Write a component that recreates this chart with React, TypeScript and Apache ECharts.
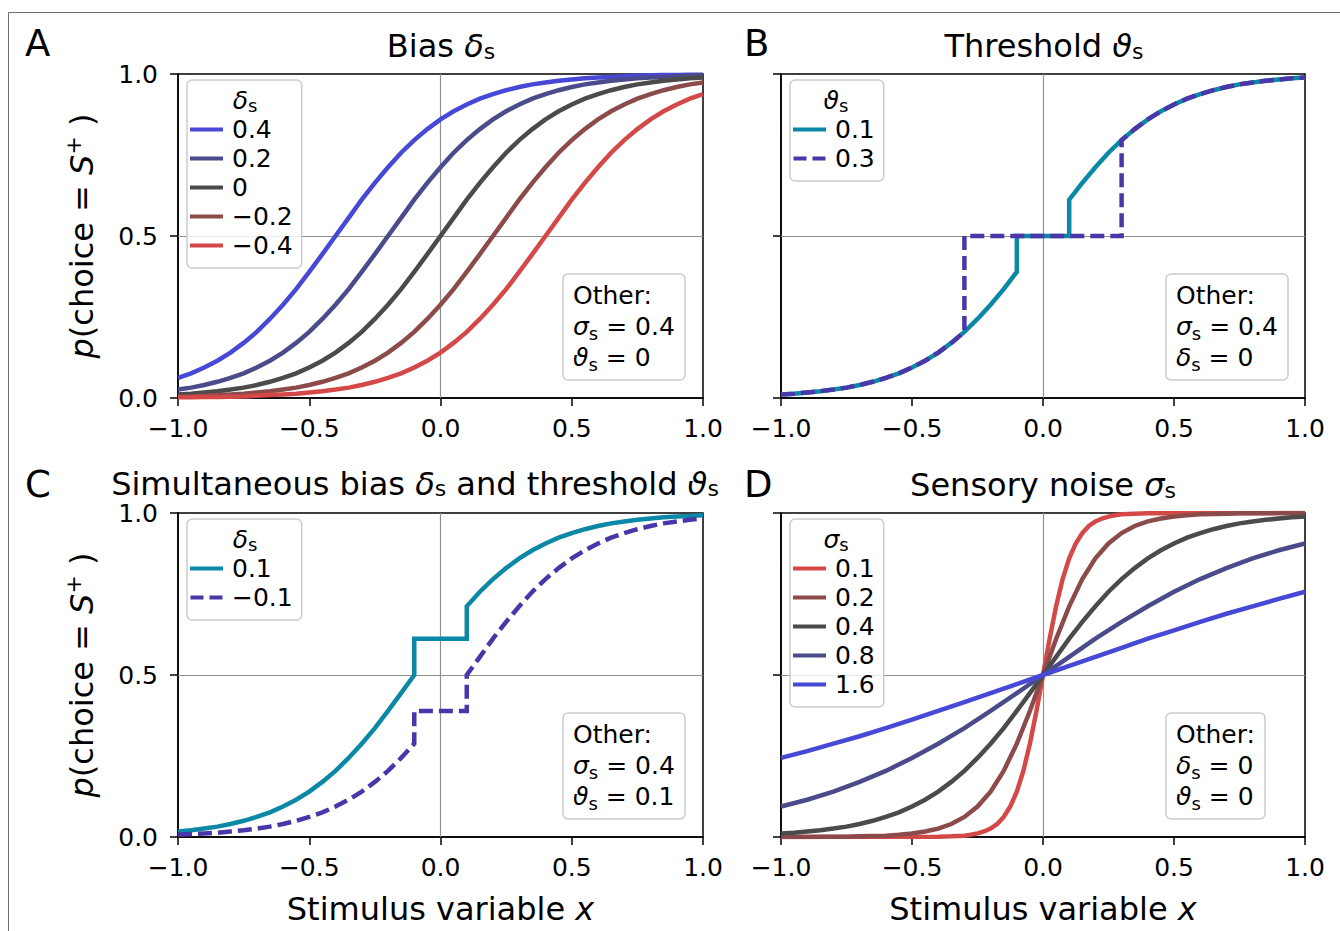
import React, { useEffect, useRef } from 'react';
import * as echarts from 'echarts';

const FF = 'DejaVu Sans';

// ---------- shared x grids ----------
const xGrid = [-1, -0.95, -0.9, -0.85, -0.8, -0.75, -0.7, -0.65, -0.6, -0.55, -0.5, -0.45, -0.4, -0.35, -0.3, -0.25, -0.2, -0.15, -0.1, -0.05, 0, 0.05, 0.1, 0.15, 0.2, 0.25, 0.3, 0.35, 0.4, 0.45, 0.5, 0.55, 0.6, 0.65, 0.7, 0.75, 0.8, 0.85, 0.9, 0.95, 1];
const xCoarse = [-1, -0.9, -0.8, -0.7, -0.6, -0.5, -0.4, -0.3, -0.2, -0.1, 0, 0.1, 0.2, 0.3, 0.4, 0.5, 0.6, 0.7, 0.8, 0.9, 1];

// ---------- Panel A: bias ----------
const biasLabels = ['0.4', '0.2', '0', '−0.2', '−0.4'];
const biasP04 = [0.062, 0.076, 0.094, 0.115, 0.140, 0.170, 0.204, 0.244, 0.288, 0.336, 0.389, 0.444, 0.500, 0.556, 0.612, 0.664, 0.712, 0.757, 0.796, 0.830, 0.860, 0.885, 0.906, 0.924, 0.938, 0.950, 0.960, 0.968, 0.974, 0.979, 0.983, 0.987, 0.989, 0.991, 0.993, 0.995, 0.996, 0.997, 0.997, 0.998, 0.998];
const biasP02 = [0.026, 0.032, 0.040, 0.050, 0.062, 0.076, 0.094, 0.115, 0.140, 0.170, 0.204, 0.244, 0.288, 0.336, 0.389, 0.444, 0.500, 0.556, 0.612, 0.664, 0.712, 0.757, 0.796, 0.830, 0.860, 0.885, 0.906, 0.924, 0.938, 0.950, 0.960, 0.968, 0.974, 0.979, 0.983, 0.987, 0.989, 0.991, 0.993, 0.995, 0.996];
const biasZero = [0.011, 0.013, 0.017, 0.021, 0.026, 0.032, 0.040, 0.050, 0.062, 0.076, 0.094, 0.115, 0.140, 0.170, 0.204, 0.244, 0.288, 0.336, 0.389, 0.444, 0.500, 0.556, 0.612, 0.664, 0.712, 0.757, 0.796, 0.830, 0.860, 0.885, 0.906, 0.924, 0.938, 0.950, 0.960, 0.968, 0.974, 0.979, 0.983, 0.987, 0.989];
const biasM02 = [0.004, 0.005, 0.007, 0.009, 0.011, 0.013, 0.017, 0.021, 0.026, 0.032, 0.040, 0.050, 0.062, 0.076, 0.094, 0.115, 0.140, 0.170, 0.204, 0.244, 0.288, 0.336, 0.389, 0.444, 0.500, 0.556, 0.612, 0.664, 0.712, 0.757, 0.796, 0.830, 0.860, 0.885, 0.906, 0.924, 0.938, 0.950, 0.960, 0.968, 0.974];
const biasM04 = [0.002, 0.002, 0.003, 0.003, 0.004, 0.005, 0.007, 0.009, 0.011, 0.013, 0.017, 0.021, 0.026, 0.032, 0.040, 0.050, 0.062, 0.076, 0.094, 0.115, 0.140, 0.170, 0.204, 0.244, 0.288, 0.336, 0.389, 0.444, 0.500, 0.556, 0.612, 0.664, 0.712, 0.757, 0.796, 0.830, 0.860, 0.885, 0.906, 0.924, 0.938];

// ---------- Panel B: threshold ----------
const thrLabels = ['0.1', '0.3'];
const thrX01 = [-1, -0.95, -0.9, -0.85, -0.8, -0.75, -0.7, -0.65, -0.6, -0.55, -0.5, -0.45, -0.4, -0.35, -0.3, -0.25, -0.2, -0.15, -0.1, -0.1, 0.1, 0.1, 0.15, 0.2, 0.25, 0.3, 0.35, 0.4, 0.45, 0.5, 0.55, 0.6, 0.65, 0.7, 0.75, 0.8, 0.85, 0.9, 0.95, 1];
const thrY01 = [0.011, 0.013, 0.017, 0.021, 0.026, 0.032, 0.040, 0.050, 0.062, 0.076, 0.094, 0.115, 0.140, 0.170, 0.204, 0.244, 0.288, 0.336, 0.389, 0.5, 0.5, 0.612, 0.664, 0.712, 0.757, 0.796, 0.830, 0.860, 0.885, 0.906, 0.924, 0.938, 0.950, 0.960, 0.968, 0.974, 0.979, 0.983, 0.987, 0.989];
const thrX03 = [-1, -0.95, -0.9, -0.85, -0.8, -0.75, -0.7, -0.65, -0.6, -0.55, -0.5, -0.45, -0.4, -0.35, -0.3, -0.3, 0.3, 0.3, 0.35, 0.4, 0.45, 0.5, 0.55, 0.6, 0.65, 0.7, 0.75, 0.8, 0.85, 0.9, 0.95, 1];
const thrY03 = [0.011, 0.013, 0.017, 0.021, 0.026, 0.032, 0.040, 0.050, 0.062, 0.076, 0.094, 0.115, 0.140, 0.170, 0.204, 0.5, 0.5, 0.796, 0.830, 0.860, 0.885, 0.906, 0.924, 0.938, 0.950, 0.960, 0.968, 0.974, 0.979, 0.983, 0.987, 0.989];

// ---------- Panel C: bias and threshold ----------
const bothLabels = ['0.1', '−0.1'];
const bothX = thrX01;
const bothYPos = [0.017, 0.021, 0.026, 0.032, 0.040, 0.050, 0.062, 0.076, 0.094, 0.115, 0.140, 0.170, 0.204, 0.244, 0.288, 0.336, 0.389, 0.444, 0.500, 0.612, 0.612, 0.712, 0.757, 0.796, 0.830, 0.860, 0.885, 0.906, 0.924, 0.938, 0.950, 0.960, 0.968, 0.974, 0.979, 0.983, 0.987, 0.989, 0.991, 0.993];
const bothYNeg = [0.007, 0.009, 0.011, 0.013, 0.017, 0.021, 0.026, 0.032, 0.040, 0.050, 0.062, 0.076, 0.094, 0.115, 0.140, 0.170, 0.204, 0.244, 0.288, 0.389, 0.389, 0.500, 0.556, 0.612, 0.664, 0.712, 0.757, 0.796, 0.830, 0.860, 0.885, 0.906, 0.924, 0.938, 0.950, 0.960, 0.968, 0.974, 0.979, 0.983];

// ---------- Panel D: sensory noise ----------
const noiseLabels = ['0.1', '0.2', '0.4', '0.8', '1.6'];
const noiseX01 = [-1, -0.4, -0.35, -0.3, -0.275, -0.25, -0.225, -0.2, -0.175, -0.15, -0.125, -0.1, -0.075, -0.05, -0.025, 0, 0.025, 0.05, 0.075, 0.1, 0.125, 0.15, 0.175, 0.2, 0.225, 0.25, 0.275, 0.3, 0.35, 0.4, 1];
const noiseY01 = [0.000, 0.001, 0.002, 0.004, 0.007, 0.011, 0.017, 0.026, 0.040, 0.062, 0.094, 0.140, 0.204, 0.288, 0.389, 0.500, 0.611, 0.712, 0.796, 0.860, 0.906, 0.938, 0.960, 0.974, 0.983, 0.989, 0.993, 0.996, 0.998, 0.999, 1.000];
const noiseY02 = [0.000, 0.000, 0.000, 0.001, 0.001, 0.001, 0.002, 0.003, 0.004, 0.007, 0.011, 0.017, 0.026, 0.040, 0.062, 0.094, 0.140, 0.204, 0.288, 0.389, 0.500, 0.611, 0.712, 0.796, 0.860, 0.906, 0.938, 0.960, 0.974, 0.983, 0.989, 0.993, 0.996, 0.997, 0.998, 0.999, 0.999, 0.999, 1.000, 1.000, 1.000];
const noiseY04 = biasZero;
const noiseY08 = [0.094, 0.115, 0.140, 0.170, 0.204, 0.244, 0.288, 0.336, 0.389, 0.444, 0.500, 0.556, 0.612, 0.664, 0.712, 0.757, 0.796, 0.830, 0.860, 0.885, 0.906];
const noiseY16 = [0.244, 0.265, 0.288, 0.311, 0.336, 0.362, 0.389, 0.416, 0.444, 0.472, 0.500, 0.528, 0.556, 0.584, 0.612, 0.638, 0.664, 0.689, 0.712, 0.735, 0.757];

// ---------- styling ----------
const C_BLUE = '#4848d6';
const C_SLATE = '#4b4b8c';
const C_GRAY = '#4b4b4b';
const C_BROWN = '#8c4b4b';
const C_RED = '#d44848';
const C_TEAL = '#0b88a6';
const C_PURPLE = '#4a36a8';
const LW = 4.5;

const ICON_SOLID = 'path://M0,0H33V4H0Z';
const ICON_DASH = 'path://M0,0H13V4H0ZM19,0H32V4H19Z';

const grids = [
  { left: 178, top: 74, width: 525, height: 324 },
  { left: 781, top: 74, width: 524, height: 324 },
  { left: 178, top: 513, width: 525, height: 324 },
  { left: 781, top: 513, width: 524, height: 324 },
];

function rich(size: number, lh = 1.22) {
  const sub = Math.round(size * 0.7);
  const base = { fontFamily: FF, color: '#000', fontWeight: 'normal' };
  return {
    n: { ...base, fontSize: size, lineHeight: Math.round(size * lh) },
    i: { ...base, fontSize: size, fontStyle: 'italic', lineHeight: Math.round(size * lh) },
    s: { ...base, fontSize: sub, verticalAlign: 'bottom', lineHeight: Math.round(size * (lh - 0.5)) },
    sup: { ...base, fontSize: sub, verticalAlign: 'top', lineHeight: sub },
  };
}

function line(name: string, xs: number[], ys: number[], g: number, color: string, dashed = false) {
  return {
    type: 'line',
    name,
    xAxisIndex: g,
    yAxisIndex: g,
    data: xs.map((x, i) => [x, ys[i]]),
    showSymbol: false,
    symbol: 'none',
    smooth: false,
    silent: true,
    z: 3,
    itemStyle: { color },
    lineStyle: { color, width: LW, type: dashed ? [14, 6] : 'solid', cap: 'butt', join: 'miter' },
    emphasis: { disabled: true },
  };
}

function guide(g: number) {
  return {
    type: 'line',
    name: 'guide' + g,
    xAxisIndex: g,
    yAxisIndex: g,
    data: [],
    silent: true,
    z: 1,
    markLine: {
      silent: true,
      z: 1,
      symbol: ['none', 'none'],
      label: { show: false },
      emphasis: { disabled: true },
      lineStyle: { color: '#909090', width: 1.2, type: 'solid' },
      data: [{ xAxis: 0 }, { yAxis: 0.5 }],
    },
  };
}

const fmtTick = (v: number) => (v < 0 ? '−' : '') + Math.abs(v).toFixed(1);

function legend(names: string[], dashedNames: string[], left: number, top: number) {
  return {
    data: names.map((n) => ({ name: n, icon: dashedNames.includes(n) ? ICON_DASH : ICON_SOLID })),
    formatter: (n: string) => n.split('|')[1],
    orient: 'vertical',
    left,
    top,
    padding: [35, 9, 8, 3],
    itemWidth: 33,
    itemHeight: 4,
    itemGap: 0,
    selectedMode: false,
    backgroundColor: 'rgba(255,255,255,0.8)',
    borderColor: '#cccccc',
    borderWidth: 1.5,
    borderRadius: 5,
    textStyle: { fontSize: 25, fontFamily: FF, color: '#000', lineHeight: 29, padding: [0, 0, 0, 4] },
    z: 5,
  };
}

function otherBox(text: string, left: number, top: number) {
  return {
    text,
    left,
    top,
    padding: [6, 10, 7, 10],
    borderColor: '#cccccc',
    borderWidth: 1.5,
    borderRadius: 5,
    backgroundColor: 'rgba(255,255,255,0.8)',
    textStyle: { fontSize: 25, fontFamily: FF, color: '#000', fontWeight: 'normal', lineHeight: 31, rich: rich(25, 1.24) },
  };
}

function gtext(text: string, x: number, y: number, size: number, align = 'center', lh = 1.1) {
  return {
    type: 'text',
    x,
    y,
    z: 20,
    silent: true,
    style: { text, fontSize: size, fontFamily: FF, fill: '#000', align, verticalAlign: 'middle', rich: rich(size, lh) },
  };
}

const yName = '{i|p}{n|(choice = }{i|S}{sup|+}{n| )}';
const xName = '{n|Stimulus variable }{i|x}';

const option: any = {
  animation: false,
  backgroundColor: '#fff',
  textStyle: { fontFamily: FF },
  grid: grids.map((g) => ({ ...g, show: true, borderColor: '#000', borderWidth: 1.5, backgroundColor: 'transparent', containLabel: false, outerBoundsMode: 'none' })),
  xAxis: grids.map((_, i) => ({
    type: 'value',
    gridIndex: i,
    min: -1,
    max: 1,
    interval: 0.5,
    axisLine: { show: true, onZero: false, lineStyle: { color: '#000', width: 1.5 } },
    axisTick: { show: true, length: 8, lineStyle: { color: '#000', width: 1.5 } },
    axisLabel: { show: true, margin: 18, fontSize: 25, fontFamily: FF, color: '#000', formatter: fmtTick, showMinLabel: true, showMaxLabel: true, hideOverlap: false },
    splitLine: { show: false },
    name: i >= 2 ? xName : '',
    nameLocation: 'middle',
    nameGap: 52,
    nameTextStyle: { fontSize: 32, fontFamily: FF, color: '#000', rich: rich(32) },
  })),
  yAxis: grids.map((_, i) => ({
    type: 'value',
    gridIndex: i,
    min: 0,
    max: 1,
    interval: 0.5,
    axisLine: { show: true, onZero: false, lineStyle: { color: '#000', width: 1.5 } },
    axisTick: { show: true, length: 8, lineStyle: { color: '#000', width: 1.5 } },
    axisLabel: { show: i % 2 === 0, margin: 20, fontSize: 25, fontFamily: FF, color: '#000', formatter: (v: number) => v.toFixed(1), showMinLabel: true, showMaxLabel: true, hideOverlap: false },
    splitLine: { show: false },
    name: i % 2 === 0 ? yName : '',
    nameLocation: 'middle',
    nameRotate: 90,
    nameGap: 77,
    nameTextStyle: { fontSize: 32, fontFamily: FF, color: '#000', rich: rich(32) },
  })),
  legend: [
    legend(biasLabels.map((l) => 'A|' + l), [], 187, 80),
    legend(thrLabels.map((l) => 'B|' + l), ['B|0.3'], 790, 80),
    legend(bothLabels.map((l) => 'C|' + l), ['C|−0.1'], 187, 519),
    legend(noiseLabels.map((l) => 'D|' + l), [], 790, 519),
  ],
  title: [
    otherBox('{n|Other:}\n{i|σ}{s|s}{n| = 0.4}\n{i|ϑ}{s|s}{n| = 0}', 563, 274),
    otherBox('{n|Other:}\n{i|σ}{s|s}{n| = 0.4}\n{i|δ}{s|s}{n| = 0}', 1166, 274),
    otherBox('{n|Other:}\n{i|σ}{s|s}{n| = 0.4}\n{i|ϑ}{s|s}{n| = 0.1}', 563, 713),
    otherBox('{n|Other:}\n{i|δ}{s|s}{n| = 0}\n{i|ϑ}{s|s}{n| = 0}', 1166, 713),
  ],
  graphic: [
    { type: 'rect', z: 0, silent: true, shape: { x: 8.5, y: 12.5, width: 1400, height: 1000 }, style: { fill: 'none', stroke: '#6e6e6e', lineWidth: 1 } },
    gtext('{n|A}', 25, 43, 37, 'left'),
    gtext('{n|B}', 744, 43, 37, 'left'),
    gtext('{n|C}', 25, 484, 37, 'left'),
    gtext('{n|D}', 744, 484, 37, 'left'),
    gtext('{n|Bias }{i|δ}{s|s}', 441, 46, 32, 'center', 1.0),
    gtext('{n|Threshold }{i|ϑ}{s|s}', 1044, 46, 32, 'center', 1.0),
    gtext('{n|Simultaneous bias }{i|δ}{s|s}{n| and threshold }{i|ϑ}{s|s}', 415, 483.5, 32, 'center', 1.0),
    gtext('{n|Sensory noise }{i|σ}{s|s}', 1043, 485, 32, 'center', 1.0),
    gtext('{i|δ}{s|s}', 245, 100, 25),
    gtext('{i|ϑ}{s|s}', 836, 100, 25),
    gtext('{i|δ}{s|s}', 245, 539, 25),
    gtext('{i|σ}{s|s}', 836, 539, 25),
  ],
  series: [
    guide(0), guide(1), guide(2), guide(3),
    line('A|0.4', xGrid, biasP04, 0, C_BLUE),
    line('A|0.2', xGrid, biasP02, 0, C_SLATE),
    line('A|0', xGrid, biasZero, 0, C_GRAY),
    line('A|−0.2', xGrid, biasM02, 0, C_BROWN),
    line('A|−0.4', xGrid, biasM04, 0, C_RED),
    line('B|0.1', thrX01, thrY01, 1, C_TEAL),
    line('B|0.3', thrX03, thrY03, 1, C_PURPLE, true),
    line('C|0.1', bothX, bothYPos, 2, C_TEAL),
    line('C|−0.1', bothX, bothYNeg, 2, C_PURPLE, true),
    line('D|0.1', noiseX01, noiseY01, 3, C_RED),
    line('D|0.2', xGrid, noiseY02, 3, C_BROWN),
    line('D|0.4', xGrid, noiseY04, 3, C_GRAY),
    line('D|0.8', xCoarse, noiseY08, 3, C_SLATE),
    line('D|1.6', xCoarse, noiseY16, 3, C_BLUE),
  ],
};

export default function App() {
  const ref = useRef<HTMLDivElement>(null);
  useEffect(() => {
    if (!ref.current) return;
    const chart = echarts.init(ref.current, null, { renderer: 'svg', width: 1340, height: 931 });
    chart.setOption(option);
    return () => chart.dispose();
  }, []);
  return <div ref={ref} style={{ position: 'fixed', left: 0, top: 0, width: 1340, height: 931, background: '#fff' }} />;
}
